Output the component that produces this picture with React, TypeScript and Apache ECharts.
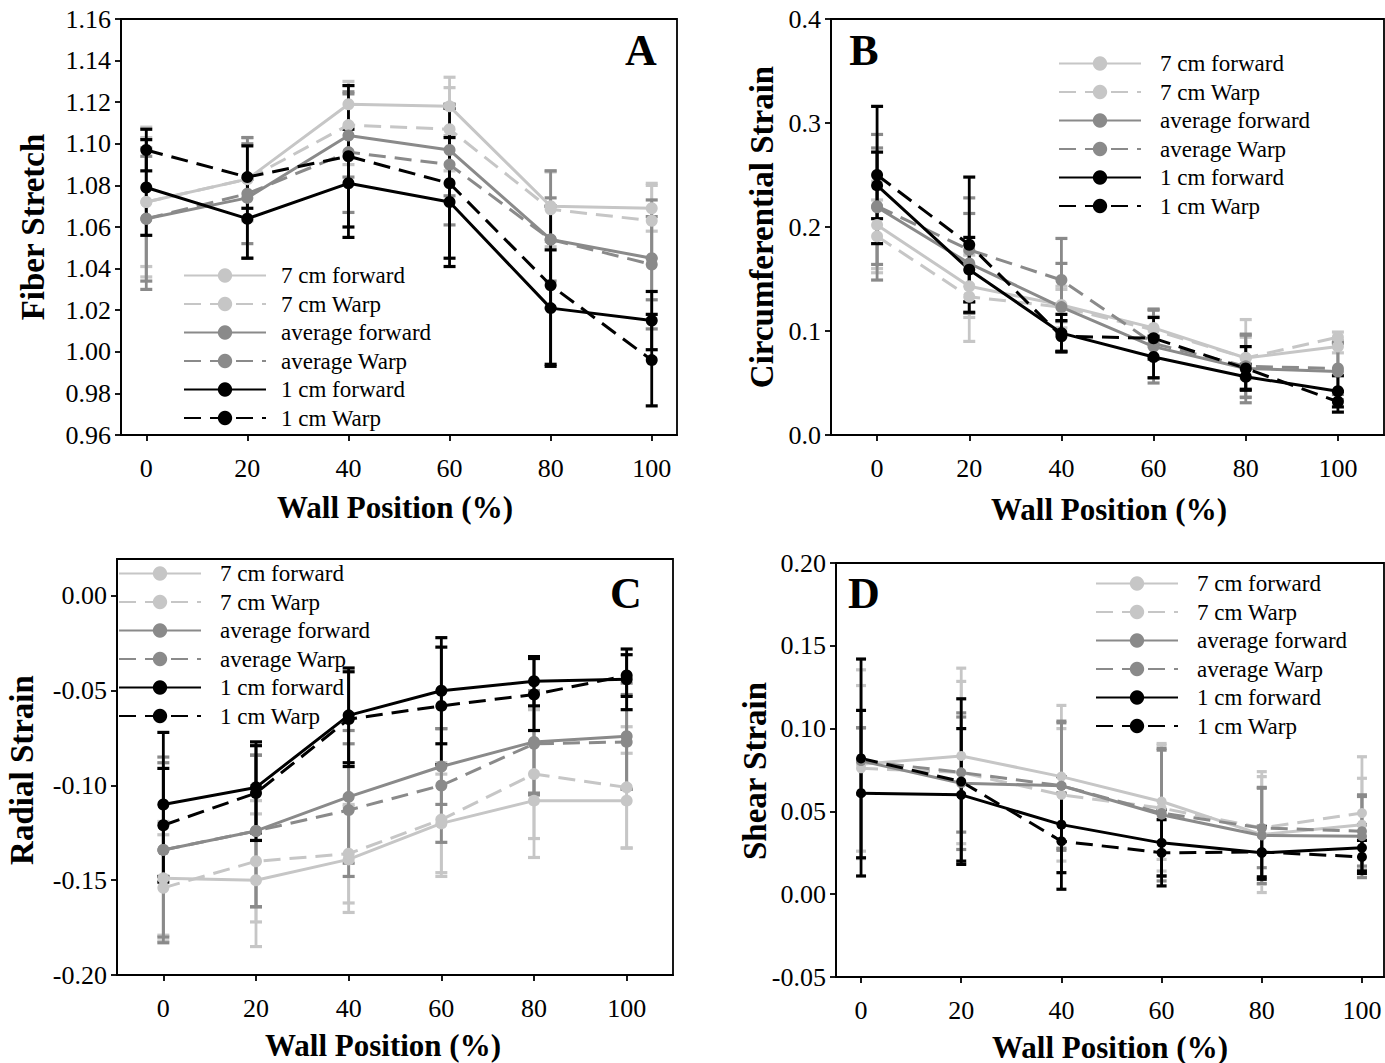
import React, { useEffect, useRef } from "react";
import * as echarts from "echarts";

// ---------- data ----------
const positions = [0, 20, 40, 60, 80, 100];
const seriesNames = ["7 cm forward", "7 cm Warp", "average forward", "average Warp", "1 cm forward", "1 cm Warp"];
const seriesColors = ["#c6c6c6", "#c6c6c6", "#8a8a8a", "#8a8a8a", "#000000", "#000000"];
const seriesDashed = [false, true, false, true, false, true];

// Panel A: Fiber Stretch
const fiber7Forward = [1.072, 1.083, 1.119, 1.118, 1.070, 1.069];
const fiber7Warp = [1.072, 1.083, 1.109, 1.107, 1.0685, 1.063];
const fiberAvgForward = [1.064, 1.074, 1.104, 1.097, 1.054, 1.045];
const fiberAvgWarp = [1.064, 1.076, 1.096, 1.090, 1.054, 1.042];
const fiber1Forward = [1.079, 1.064, 1.081, 1.072, 1.021, 1.015];
const fiber1Warp = [1.097, 1.084, 1.094, 1.081, 1.032, 0.996];
const fiber7ForwardErr = [0.036, 0.020, 0.011, 0.014, 0.017, 0.011];
const fiber7WarpErr = [0.031, 0.020, 0.019, 0.020, 0.018, 0.018];
const fiberAvgForwardErr = [0.034, 0.029, 0.020, 0.022, 0.033, 0.020];
const fiberAvgWarpErr = [0.030, 0.024, 0.029, 0.029, 0.020, 0.031];
const fiber1ForwardErr = [0.023, 0.019, 0.026, 0.031, 0.028, 0.014];
const fiber1WarpErr = [0.010, 0.015, 0.034, 0.036, 0.038, 0.022];

// Panel B: Circumferential Strain
const circ7Forward = [0.202, 0.143, 0.125, 0.103, 0.074, 0.085];
const circ7Warp = [0.191, 0.133, 0.123, 0.101, 0.074, 0.094];
const circAvgForward = [0.219, 0.165, 0.123, 0.085, 0.064, 0.061];
const circAvgWarp = [0.220, 0.178, 0.149, 0.088, 0.066, 0.064];
const circ1Forward = [0.240, 0.159, 0.098, 0.075, 0.056, 0.042];
const circ1Warp = [0.250, 0.183, 0.095, 0.093, 0.064, 0.032];
const circ7ForwardErr = [0.042, 0.030, 0.015, 0.018, 0.020, 0.006];
const circ7WarpErr = [0.035, 0.043, 0.020, 0.013, 0.037, 0.005];
const circAvgForwardErr = [0.070, 0.048, 0.042, 0.035, 0.033, 0.027];
const circAvgWarpErr = [0.056, 0.050, 0.040, 0.033, 0.030, 0.025];
const circ1ForwardErr = [0.032, 0.031, 0.018, 0.020, 0.012, 0.015];
const circ1WarpErr = [0.066, 0.065, 0.015, 0.020, 0.021, 0.010];

// Panel C: Radial Strain
const rad7Forward = [-0.149, -0.150, -0.139, -0.120, -0.108, -0.108];
const rad7Warp = [-0.154, -0.140, -0.136, -0.118, -0.094, -0.101];
const radAvgForward = [-0.134, -0.124, -0.106, -0.090, -0.077, -0.074];
const radAvgWarp = [-0.134, -0.124, -0.113, -0.100, -0.078, -0.077];
const rad1Forward = [-0.110, -0.101, -0.063, -0.050, -0.045, -0.044];
const rad1Warp = [-0.121, -0.104, -0.065, -0.058, -0.052, -0.042];
const rad7ForwardErr = [0.030, 0.035, 0.028, 0.026, 0.030, 0.025];
const rad7WarpErr = [0.028, 0.032, 0.026, 0.030, 0.034, 0.032];
const radAvgForwardErr = [0.049, 0.040, 0.035, 0.020, 0.027, 0.028];
const radAvgWarpErr = [0.046, 0.040, 0.035, 0.030, 0.027, 0.025];
const rad1ForwardErr = [0.038, 0.024, 0.025, 0.028, 0.013, 0.016];
const rad1WarpErr = [0.030, 0.025, 0.025, 0.031, 0.019, 0.011];

// Panel D: Shear Strain
const shear7Forward = [0.0785, 0.0835, 0.071, 0.056, 0.036, 0.042];
const shear7Warp = [0.076, 0.0735, 0.060, 0.052, 0.040, 0.049];
const shearAvgForward = [0.0805, 0.067, 0.0655, 0.048, 0.0355, 0.035];
const shearAvgWarp = [0.0805, 0.0735, 0.0655, 0.049, 0.040, 0.038];
const shear1Forward = [0.061, 0.060, 0.042, 0.031, 0.025, 0.028];
const shear1Warp = [0.082, 0.068, 0.032, 0.025, 0.0255, 0.0225];
const shear7ForwardErr = [0.057, 0.053, 0.043, 0.035, 0.035, 0.028];
const shear7WarpErr = [0.050, 0.055, 0.040, 0.038, 0.034, 0.034];
const shearAvgForwardErr = [0.020, 0.040, 0.039, 0.040, 0.029, 0.025];
const shearAvgWarpErr = [0.020, 0.036, 0.038, 0.038, 0.024, 0.021];
const shear1ForwardErr = [0.050, 0.040, 0.029, 0.020, 0.016, 0.014];
const shear1WarpErr = [0.060, 0.050, 0.029, 0.020, 0.015, 0.010];

// tick labels
const xTicks = [0, 20, 40, 60, 80, 100];
const yTicksA = [0.96, 0.98, 1.0, 1.02, 1.04, 1.06, 1.08, 1.1, 1.12, 1.14, 1.16];
const yTicksB = [0.0, 0.1, 0.2, 0.3, 0.4];
const yTicksC = [-0.2, -0.15, -0.1, -0.05, 0.0];
const yTicksD = [-0.05, 0.0, 0.05, 0.1, 0.15, 0.2];

const panelTitles = ["A", "B", "C", "D"];
const yAxisTitles = ["Fiber Stretch", "Circumferential Strain", "Radial Strain", "Shear Strain"];
const xAxisTitle = "Wall Position (%)";

// ---------- layout ----------
const FONT = '"Liberation Serif", "Times New Roman", serif';

const panels = [
  {
    means: [fiber7Forward, fiber7Warp, fiberAvgForward, fiberAvgWarp, fiber1Forward, fiber1Warp],
    errs: [fiber7ForwardErr, fiber7WarpErr, fiberAvgForwardErr, fiberAvgWarpErr, fiber1ForwardErr, fiber1WarpErr],
    grid: { left: 121, top: 19, width: 556, height: 416 },
    xMin: -5, xMax: 105, yMin: 0.96, yMax: 1.16, yTicks: yTicksA, digits: 2,
    legend: { left: 183, top: 264, pad: 10 },
    letter: { x: 641, y: 50 },
    yTitle: { x: 33, y: 227 }, xTitle: { x: 395, y: 507 },
    symbol: 12, cap: 6,
  },
  {
    means: [circ7Forward, circ7Warp, circAvgForward, circAvgWarp, circ1Forward, circ1Warp],
    errs: [circ7ForwardErr, circ7WarpErr, circAvgForwardErr, circAvgWarpErr, circ1ForwardErr, circ1WarpErr],
    grid: { left: 831, top: 19, width: 553, height: 416 },
    xMin: -10, xMax: 110, yMin: 0, yMax: 0.4, yTicks: yTicksB, digits: 1,
    legend: { left: 1058, top: 52, pad: 14 },
    letter: { x: 864, y: 50 },
    yTitle: { x: 762, y: 227 }, xTitle: { x: 1109, y: 509 },
    symbol: 12, cap: 6,
  },
  {
    means: [rad7Forward, rad7Warp, radAvgForward, radAvgWarp, rad1Forward, rad1Warp],
    errs: [rad7ForwardErr, rad7WarpErr, radAvgForwardErr, radAvgWarpErr, rad1ForwardErr, rad1WarpErr],
    grid: { left: 117, top: 559, width: 556, height: 416 },
    xMin: -10, xMax: 110, yMin: -0.2, yMax: 0.0195, yTicks: yTicksC, digits: 2,
    legend: { left: 118, top: 562, pad: 14 },
    letter: { x: 626, y: 593 },
    yTitle: { x: 22, y: 770 }, xTitle: { x: 383, y: 1045 },
    symbol: 12, cap: 6,
  },
  {
    means: [shear7Forward, shear7Warp, shearAvgForward, shearAvgWarp, shear1Forward, shear1Warp],
    errs: [shear7ForwardErr, shear7WarpErr, shearAvgForwardErr, shearAvgWarpErr, shear1ForwardErr, shear1WarpErr],
    grid: { left: 836, top: 563, width: 548, height: 414 },
    xMin: -5, xMax: 104.4, yMin: -0.05, yMax: 0.2, yTicks: yTicksD, digits: 2,
    legend: { left: 1095, top: 572, pad: 14 },
    letter: { x: 864, y: 593 },
    yTitle: { x: 755, y: 771 }, xTitle: { x: 1110, y: 1047 },
    symbol: 10, cap: 5,
  },
];

function buildOption() {
  const grids: any[] = [];
  const xAxes: any[] = [];
  const yAxes: any[] = [];
  const series: any[] = [];
  const legends: any[] = [];
  const graphics: any[] = [];

  panels.forEach((p, pi) => {
    grids.push({
      ...p.grid,
      show: true,
      borderColor: "#000",
      borderWidth: 1.8,
      backgroundColor: "transparent",
      containLabel: false,
    });
    xAxes.push({
      type: "value",
      gridIndex: pi,
      min: p.xMin,
      max: p.xMax,
      axisLine: { show: true, onZero: false, lineStyle: { color: "#000", width: 1.8 } },
      axisTick: { show: true, inside: false, length: 6, customValues: xTicks, lineStyle: { color: "#000", width: 1.8 } },
      axisLabel: {
        show: true,
        customValues: xTicks,
        margin: 20,
        color: "#000",
        fontFamily: FONT,
        fontSize: 26,
        formatter: (v: number) => String(Math.round(v)),
      },
      splitLine: { show: false },
    });
    yAxes.push({
      type: "value",
      gridIndex: pi,
      min: p.yMin,
      max: p.yMax,
      axisLine: { show: true, onZero: false, lineStyle: { color: "#000", width: 1.8 } },
      axisTick: { show: true, inside: false, length: 6, customValues: p.yTicks, lineStyle: { color: "#000", width: 1.8 } },
      axisLabel: {
        show: true,
        customValues: p.yTicks,
        margin: 10,
        color: "#000",
        fontFamily: FONT,
        fontSize: 26,
        formatter: (v: number) => v.toFixed(p.digits),
      },
      splitLine: { show: false },
    });

    seriesNames.forEach((name, si) => {
      const color = seriesColors[si];
      const mean = p.means[si];
      const err = p.errs[si];
      const cap = p.cap;
      series.push({
        type: "custom",
        name: name + " error " + pi,
        xAxisIndex: pi,
        yAxisIndex: pi,
        silent: true,
        clip: false,
        data: positions.map((x, i) => [x, mean[i] - err[i], mean[i] + err[i]]),
        encode: { x: 0, y: [1, 2] },
        renderItem: (params: any, api: any) => {
          const lo = api.coord([api.value(0), api.value(1)]);
          const hi = api.coord([api.value(0), api.value(2)]);
          return {
            type: "group",
            children: [
              { type: "line", shape: { x1: lo[0], y1: lo[1], x2: hi[0], y2: hi[1] }, style: { stroke: color, lineWidth: 2.8 } },
              { type: "line", shape: { x1: lo[0] - cap, y1: lo[1], x2: lo[0] + cap, y2: lo[1] }, style: { stroke: color, lineWidth: 3.2 } },
              { type: "line", shape: { x1: hi[0] - cap, y1: hi[1], x2: hi[0] + cap, y2: hi[1] }, style: { stroke: color, lineWidth: 3.2 } },
            ],
          };
        },
      });
      series.push({
        type: "line",
        name,
        xAxisIndex: pi,
        yAxisIndex: pi,
        data: positions.map((x, i) => [x, mean[i]]),
        symbol: "circle",
        symbolSize: p.symbol,
        showSymbol: true,
        color,
        itemStyle: { color, borderWidth: 0 },
        lineStyle: { color, width: 3, type: seriesDashed[si] ? [17, 9] : "solid" },
        silent: true,
      });
    });

    legends.push({
      show: true,
      orient: "vertical",
      left: p.legend.left,
      top: p.legend.top,
      padding: 0,
      data: seriesNames,
      itemWidth: 82,
      itemHeight: 18,
      itemGap: 5.5,
      selectedMode: false,
      textStyle: {
        fontFamily: FONT,
        fontSize: 23,
        color: "#000",
        lineHeight: 22.5,
        padding: [0, 0, 0, p.legend.pad],
      },
    });

    graphics.push({
      type: "text",
      x: p.letter.x,
      y: p.letter.y,
      style: {
        text: panelTitles[pi],
        font: `bold 44px ${FONT}`,
        fill: "#000",
        align: "center",
        verticalAlign: "middle",
        textAlign: "center",
        textVerticalAlign: "middle",
      },
    });
    graphics.push({
      type: "text",
      x: p.xTitle.x,
      y: p.xTitle.y,
      style: {
        text: xAxisTitle,
        font: `bold 31px ${FONT}`,
        fill: "#000",
        align: "center",
        verticalAlign: "middle",
        textAlign: "center",
        textVerticalAlign: "middle",
      },
    });
    graphics.push({
      type: "text",
      x: p.yTitle.x,
      y: p.yTitle.y,
      rotation: Math.PI / 2,
      style: {
        text: yAxisTitles[pi],
        font: `bold 33px ${FONT}`,
        fill: "#000",
        align: "center",
        verticalAlign: "middle",
        textAlign: "center",
        textVerticalAlign: "middle",
      },
    });
  });

  return {
    animation: false,
    backgroundColor: "#fff",
    textStyle: { fontFamily: FONT },
    grid: grids,
    xAxis: xAxes,
    yAxis: yAxes,
    legend: legends,
    series,
    graphic: graphics,
  };
}

export default function App() {
  const ref = useRef<HTMLDivElement>(null);
  useEffect(() => {
    if (!ref.current) return;
    const chart = echarts.init(ref.current, undefined, { renderer: "svg" });
    chart.setOption(buildOption() as any);
    return () => chart.dispose();
  }, []);
  return (
    <div
      ref={ref}
      style={{ position: "absolute", left: 0, top: 0, width: 1385, height: 1063, background: "#fff" }}
    />
  );
}
